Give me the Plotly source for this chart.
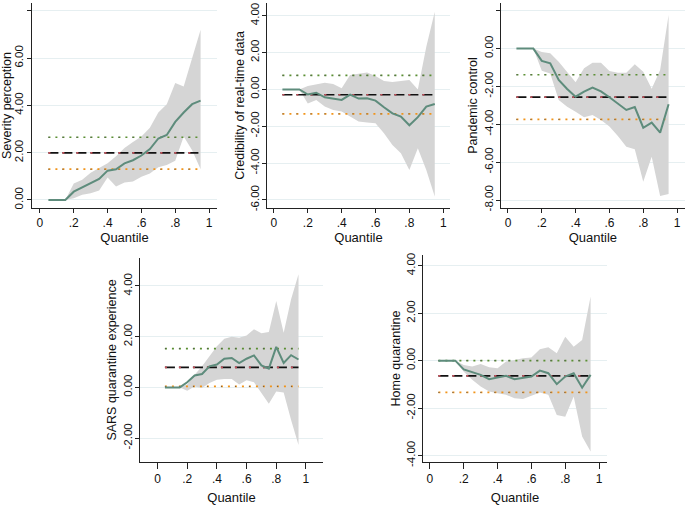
import plotly.graph_objects as go

quantiles = [0.05, 0.10, 0.15, 0.20, 0.25, 0.30, 0.35, 0.40, 0.45, 0.50,
             0.55, 0.60, 0.65, 0.70, 0.75, 0.80, 0.85, 0.90, 0.95]

x_tick_vals = [0, 0.2, 0.4, 0.6, 0.8, 1]
x_tick_text = ["0", ".2", ".4", ".6", ".8", "1"]

# Panel 1: Severity perception
sev_coef = [0, 0, 0, 0.35, 0.53, 0.73, 0.89, 1.24, 1.30, 1.55, 1.68, 1.88, 2.15, 2.60, 2.75, 3.30, 3.70, 4.05, 4.20]
sev_hi = [0, 0, 0, 0.70, 0.85, 1.15, 1.35, 1.55, 1.85, 2.20, 2.45, 2.68, 3.05, 3.70, 4.05, 4.95, 4.80, 6.00, 7.20]
sev_lo = [0, 0, 0, 0.07, 0.22, 0.28, 0.40, 0.95, 0.57, 0.74, 0.78, 0.98, 1.12, 1.38, 1.48, 1.66, 2.68, 2.10, 1.30]
sev_ols = [1.99, 2.65, 1.30]

# Panel 2: Credibility of real-time data
cred_coef = [0, 0, 0, -0.28, -0.18, -0.43, -0.50, -0.57, -0.28, -0.50, -0.48, -0.61, -0.97, -1.30, -1.48, -1.95, -1.51, -0.93, -0.79]
cred_hi = [0, 0, 0, 0.18, 0.29, 0.36, 0.29, 0.06, 0.78, 0.84, 0.91, 0.73, 0.46, 0.40, 0.47, 0.51, 0.00, 2.32, 4.22]
cred_lo = [0, 0, 0, -0.76, -0.57, -0.93, -1.12, -1.20, -1.48, -1.75, -1.80, -1.84, -2.38, -3.02, -3.47, -4.38, -3.20, -4.38, -5.82]
cred_ols = [-0.29, 0.76, -1.33]

# Panel 3: Pandemic control
pan_coef = [0, 0, 0, -0.65, -0.78, -1.66, -2.13, -2.54, -2.27, -2.06, -2.26, -2.57, -2.93, -3.24, -3.09, -4.18, -3.91, -4.44, -2.94]
pan_hi = [0, 0, 0, -0.18, -0.25, -0.69, -1.22, -1.78, -1.04, -0.74, -0.74, -1.18, -1.27, -1.27, -0.83, -1.22, -2.12, -1.13, 1.78]
pan_lo = [0, 0, 0, -1.17, -1.31, -2.71, -3.07, -3.33, -3.63, -3.51, -3.77, -4.12, -4.62, -5.18, -5.32, -7.03, -5.71, -7.79, -7.68]
pan_ols = [-2.56, -1.38, -3.74]

# Panel 4: SARS quarantine experience
sars_coef = [0, 0, 0, 0.20, 0.47, 0.53, 0.83, 0.90, 1.13, 1.16, 0.96, 1.13, 1.26, 0.87, 0.74, 1.60, 0.96, 1.27, 1.10]
sars_hi = [0, 0, 0, 0.11, 0.50, 0.83, 1.23, 1.62, 1.92, 2.00, 1.96, 2.05, 2.29, 2.13, 2.18, 3.41, 2.15, 3.47, 4.46]
sars_lo = [0, 0, 0, -0.13, 0.04, -0.02, 0.17, 0.30, 0.33, 0.33, 0.11, 0.28, 0.20, -0.22, -0.64, -0.16, -0.20, -1.28, -2.27]
sars_ols = [0.79, 1.53, 0.04]

# Panel 5: Home quarantine
home_coef = [0, 0, 0, -0.37, -0.50, -0.60, -0.78, -0.70, -0.64, -0.78, -0.73, -0.67, -0.42, -0.53, -0.99, -0.67, -0.53, -1.14, -0.60]
home_hi = [0, 0, 0, -0.18, -0.25, -0.14, -0.28, -0.32, -0.04, 0.03, 0.10, 0.13, 0.48, 0.56, 0.31, 1.01, 0.59, 0.87, 2.70]
home_lo = [0, 0, 0, -0.47, -0.81, -1.09, -1.30, -1.37, -1.44, -1.58, -1.62, -1.48, -1.34, -1.44, -2.29, -2.36, -1.51, -3.20, -3.83]
home_ols = [-0.64, 0.00, -1.34]

titles = ["Severity perception", "Credibility of real-time data", "Pandemic control",
          "SARS quarantine experience", "Home quarantine"]
coefs = [sev_coef, cred_coef, pan_coef, sars_coef, home_coef]
his = [sev_hi, cred_hi, pan_hi, sars_hi, home_hi]
los = [sev_lo, cred_lo, pan_lo, sars_lo, home_lo]
olss = [sev_ols, cred_ols, pan_ols, sars_ols, home_ols]
y_ticks = [[0, 2, 4, 6, 8], [-6, -4, -2, 0, 2, 4], [-8, -6, -4, -2, 0, 2],
           [-2, 0, 2, 4], [-4, -2, 0, 2, 4]]

W, H = 685, 505
# pixel boxes: (x0, x1, y0_top, y1_bottom), axis ranges
boxes = [(32, 217, 3, 208), (267, 450, 3, 208), (500.7, 685, 3, 208),
         (140, 323, 258, 462), (423, 607, 255, 462)]
x_ranges = [[-0.047, 1.047], [-0.041, 1.04], [-0.043, 1.047], [-0.118, 1.115], [-0.041, 1.047]]
y_ranges = [[-0.34, 8.33], [-6.44, 4.69], [-8.42, 2.41], [-2.94, 5.10], [-4.27, 4.45]]
title_standoff = [15, 2, 2, 3, 2]
x_title_standoff = [3, 3, 3, 15, 15]
x_ticklen = [4, 4, 4, 6, 6]
y_label_shift = [-1, -2, -2, -2, -2]

LINE = "#5e8c7c"
BAND = "#d5d5d5"
GREEN = "#5a8f33"
ORANGE = "#f29419"
FONT = "Liberation Sans, Arial, sans-serif"

fig = go.Figure()
layout = {}
for i in range(5):
    n = "" if i == 0 else str(i + 1)
    xa, ya = "x" + n, "y" + n
    # band
    fig.add_trace(go.Scatter(x=quantiles, y=los[i], mode="lines", line=dict(width=0),
                             hoverinfo="skip", showlegend=False, xaxis=xa, yaxis=ya))
    fig.add_trace(go.Scatter(x=quantiles, y=his[i], mode="lines", line=dict(width=0),
                             fill="tonexty", fillcolor=BAND, hoverinfo="skip",
                             showlegend=False, xaxis=xa, yaxis=ya))
    ols_c, ols_u, ols_l = olss[i]
    # upper CI (green dotted with dark dots)
    fig.add_trace(go.Scatter(x=quantiles, y=[ols_u] * len(quantiles), mode="lines",
                             line=dict(color=GREEN, width=1.6, dash="2px,5px"),
                             showlegend=False, xaxis=xa, yaxis=ya))
    fig.add_trace(go.Scatter(x=quantiles, y=[ols_u] * len(quantiles), mode="lines",
                             line=dict(color="#555555", width=1, dash="1px,13px"),
                             showlegend=False, xaxis=xa, yaxis=ya))
    # lower CI (orange dotted with dark dots)
    fig.add_trace(go.Scatter(x=quantiles, y=[ols_l] * len(quantiles), mode="lines",
                             line=dict(color=ORANGE, width=1.8, dash="2px,5px"),
                             showlegend=False, xaxis=xa, yaxis=ya))
    fig.add_trace(go.Scatter(x=quantiles, y=[ols_l] * len(quantiles), mode="lines",
                             line=dict(color="#555555", width=1, dash="1px,13px"),
                             showlegend=False, xaxis=xa, yaxis=ya))
    # OLS coefficient: black dashes with red dots
    fig.add_trace(go.Scatter(x=quantiles, y=[ols_c] * len(quantiles), mode="lines",
                             line=dict(color="#111111", width=1.6, dash="10px,4px"),
                             showlegend=False, xaxis=xa, yaxis=ya))
    fig.add_trace(go.Scatter(x=quantiles, y=[ols_c] * len(quantiles), mode="lines",
                             line=dict(color="#c8505a", width=1.6, dash="2px,12px"),
                             showlegend=False, xaxis=xa, yaxis=ya))
    # quantile coefficient
    fig.add_trace(go.Scatter(x=quantiles, y=coefs[i], mode="lines",
                             line=dict(color=LINE, width=2),
                             showlegend=False, xaxis=xa, yaxis=ya))

    x0, x1, t, b = boxes[i]
    layout["xaxis" + n] = dict(
        domain=[x0 / W, x1 / W], range=x_ranges[i], anchor=ya, automargin=False,
        tickvals=x_tick_vals, ticktext=x_tick_text, ticks="outside", ticklen=x_ticklen[i],
        tickcolor="#222222", showline=True, linecolor="#222222", linewidth=1,
        showgrid=False, zeroline=False,
        tickfont=dict(family=FONT, size=12, color="#111111"),
        title=dict(text="Quantile", font=dict(family=FONT, size=13, color="#111111"),
                   standoff=x_title_standoff[i]))
    layout["yaxis" + n] = dict(
        domain=[1 - b / H, 1 - t / H], range=y_ranges[i], anchor=xa, automargin=False,
        tickvals=y_ticks[i], ticktext=["%.2f" % v for v in y_ticks[i]],
        tickangle=-90, ticks="outside", ticklen=4, tickcolor="#222222",
        ticklabelstandoff=y_label_shift[i],
        showline=True, linecolor="#222222", linewidth=1,
        showgrid=True, gridcolor="#e6eff1", gridwidth=1, zeroline=False,
        tickfont=dict(family=FONT, size=11.5, color="#111111"),
        title=dict(text=titles[i], font=dict(family=FONT, size=12.5, color="#111111"),
                   standoff=title_standoff[i]))

fig.update_layout(width=W, height=H, margin=dict(l=0, r=0, t=0, b=0),
                  paper_bgcolor="white", plot_bgcolor="white", showlegend=False,
                  **layout)
fig.write_html("out.html", config={"displayModeBar": False},
               post_script="document.body.style.margin='0';document.body.style.overflow='hidden';")
